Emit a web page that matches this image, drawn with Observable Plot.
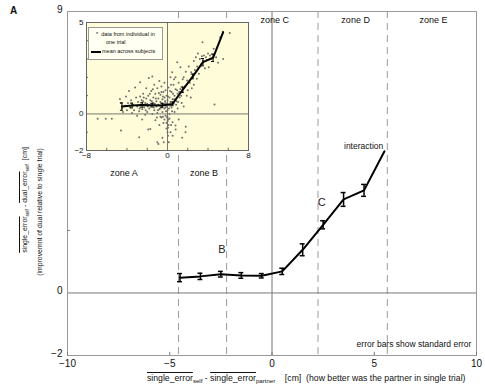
<!DOCTYPE html>
<html><head><meta charset="utf-8">
<script src="https://cdn.jsdelivr.net/npm/d3@7"></script>
<script src="https://cdn.jsdelivr.net/npm/@observablehq/plot@0.6"></script>
<style>
body{margin:0;background:#fff;font-family:"Liberation Sans",Arial,sans-serif;color:#111}
#wrap{position:relative;width:485px;height:388px;overflow:hidden}
#wrap svg{position:absolute}
.ov{text-decoration:overline}
.abs{position:absolute;white-space:nowrap;line-height:1}
.ylab{position:absolute;white-space:nowrap;line-height:1;font-size:8px;transform:translate(-50%,-50%) rotate(-90deg) scale(0.86,1)}
sub{font-size:0.7em;vertical-align:-0.35em;line-height:0}
#leg{position:absolute;left:88px;top:27px;width:73px;height:31px;border:1px solid #999;background:#fffff2;font-size:5.5px}
#leg div{position:absolute;white-space:nowrap;line-height:1}
</style></head><body><div id="wrap"></div>
<script>
// ---- main panel data (mean across subjects) ----
const binX   = [-4.5,-3.5,-2.5,-1.5,-0.5,0.5,1.5,2.5,3.5,4.5,5.5];
const mainY  = [0.49,0.53,0.60,0.56,0.55,0.69,1.38,2.18,2.99,3.28,4.53];
const mainSE = [0.13,0.10,0.09,0.09,0.07,0.10,0.19,0.13,0.22,0.19,null];
// ---- inset data ----
const insetY  = [0.40,0.46,0.49,0.48,0.46,0.55,1.32,2.05,2.83,3.07,4.47];
const insetSE = [0.20,0.13,0.12,0.10,0.10,0.10,0.15,0.13,0.20,0.20,null];
const trialPoints = [
[-6.9,-0.27],[-6.1,-0.27],[-5.5,-0.27],[-4.6,-0.9],[-4.7,0.82],[-4.6,0.6],[-4.5,0.3],[-4.4,0.1],[-4.2,0.45],[-4.1,0.95],
[-4.0,0.2],[-3.9,0.6],[-3.8,1.25],[-3.7,0.35],[-3.6,0.75],[-3.5,0.05],[-3.4,0.5],[-3.3,0.2],[-3.2,1.45],[-3.1,0.9],
[-3.0,0.4],[-3.0,-0.1],[-2.9,0.65],[-2.8,-1.27],[-2.8,0.15],[-2.7,1.73],[-2.7,0.95],[-2.6,0.5],[-2.5,-0.3],[-2.5,0.25],
[-2.4,1.1],[-2.4,0.7],[-2.3,0.35],[-2.2,-0.05],[-2.1,0.85],[-2.1,1.4],[-2.0,0.55],[-2.0,0.1],[-1.9,-0.85],[-1.9,1.0],
[-1.84,1.97],[-1.8,0.3],[-1.7,0.75],[-1.7,-0.82],[-1.6,1.25],[-1.6,0.45],[-1.5,2.05],[-1.5,0.0],[-1.4,0.9],[-1.4,0.6],
[-1.3,1.6],[-1.3,0.2],[-1.2,-0.35],[-1.2,1.1],[-1.1,0.7],[-1.1,0.4],[-1.0,-1.55],[-1.0,1.4],[-1.0,0.05],[-0.9,0.85],
[-0.9,-1.64],[-0.9,0.5],[-0.8,1.8],[-0.8,0.25],[-0.8,-0.6],[-0.7,1.05],[-0.7,0.65],[-0.6,0.35],[-0.6,1.5],[-0.6,-0.2],
[-0.5,0.8],[-0.5,-1.3],[-0.5,0.1],[-0.4,1.2],[-0.4,0.5],[-0.4,-0.5],[-0.37,-1.55],[-0.3,0.9],[-0.3,0.3],[-0.3,1.7],
[-0.2,0.6],[-0.2,-0.1],[-0.2,1.3],[-0.1,0.4],[-0.1,-0.8],[-0.1,1.0],[0.0,0.2],[0.0,-0.4],[0.0,-1.0],[0.0,0.75],
[0.05,-1.2],[0.1,0.5],[0.1,-0.6],[0.1,1.45],[0.13,-1.55],[0.2,0.0],[0.2,0.9],[0.2,-0.25],[0.3,0.65],[0.3,2.0],
[0.3,-1.0],[0.4,0.35],[0.4,1.2],[0.46,2.28],[0.5,-1.2],[0.5,0.8],[0.5,-0.45],[0.6,0.55],[0.6,1.6],[0.7,0.1],
[0.7,1.0],[0.79,2.0],[0.79,-0.63],[0.8,1.35],[0.8,-0.85],[0.9,0.7],[0.96,2.83],[1.0,1.1],[1.0,0.3],[1.1,1.7],
[1.1,-0.3],[1.2,0.9],[1.28,1.37],[1.28,2.55],[1.4,0.6],[1.45,-1.3],[1.5,1.9],[1.5,1.2],[1.6,2.0],[1.6,0.4],
[1.7,1.5],[1.78,-1.0],[1.8,-0.7],[1.8,2.3],[1.9,1.0],[1.94,1.83],[2.0,1.3],[2.1,2.6],[2.2,1.7],[2.3,0.9],
[2.34,2.28],[2.4,1.4],[2.5,2.0],[2.6,2.9],[2.6,1.6],[2.7,2.4],[2.8,3.1],[2.9,1.92],[2.93,2.6],[3.0,3.3],
[3.1,2.2],[3.2,3.0],[3.3,2.7],[3.4,3.15],[3.46,3.92],[3.5,2.9],[3.6,3.2],[3.7,2.5],[3.8,3.1],[3.9,2.95],
[4.0,3.3],[4.08,2.55],[4.2,3.2],[4.3,3.0],[4.57,3.56],[4.64,0.51],[4.8,3.1],[5.0,2.8],[5.2,4.2],[5.46,4.5],
[5.5,3.0],[6.15,4.43],[-0.65,0.45],[-0.25,0.7],[0.15,0.3],[-1.25,0.55],[-0.05,-0.2],[0.35,-0.6],[-2.2,0.6],[-0.45,0.95],
[-0.15,0.15],[-0.35,0.55],[-0.55,0.6],[-0.75,0.3],[-0.95,0.2],[-1.15,0.85],[-1.35,0.35],[-1.55,0.7],[-1.75,1.1],[-1.95,0.4],
[-2.15,0.2],[-2.35,0.9],[-2.55,0.75],[-2.75,0.3],[-0.05,0.55],[0.05,0.95],[0.25,0.45],[0.45,0.15],[0.55,1.1],[0.65,0.8],
[0.85,0.5],[0.95,1.3],[1.15,1.2],[1.35,1.0],[0.0,-0.15],[-0.1,-0.5],[0.1,-0.3],[-0.2,0.35],[-0.45,-0.15],[-0.85,1.15],
[-1.05,-0.2],[-1.45,1.35],[-0.6,1.2],[0.35,1.6],[0.65,1.9],[1.05,0.65],[-0.3,-0.3],[-0.7,-0.15],[0.05,-0.75],[0.25,1.25]
];
// ---- zones and annotations ----
const zoneBounds = [-4.57,-2.22,2.25,5.64];
const zoneLabels = ["zone A","zone B","zone C","zone D","zone E"];
const zoneLabelX = [-7.24,-3.33,0.14,4.09,7.9];
const zoneLabelY = [3.82,3.82,8.74,8.74,8.74];
const pointLabels = ["B","C"];
const pointLabelX = [-2.45,2.43];
const pointLabelY = [1.39,2.9];
const xTicks = [-10,-5,0,5,10];
const yTicks = [-2,0,9];

const mainData = binX.map((x,i)=>({x, y:mainY[i], se:mainSE[i]}));
const mainErr = mainData.filter(d=>d.se!=null);
const insetData = binX.map((x,i)=>({x, y:insetY[i], se:insetSE[i]}));
const insetErr = insetData.filter(d=>d.se!=null);

const font = "Liberation Sans, Arial, sans-serif";
const fmt = d => String(d).replace("-","\u2212");
const wrap = document.getElementById("wrap");

const main = Plot.plot({
  width:485, height:388, marginLeft:67, marginRight:9, marginTop:11, marginBottom:33,
  x:{domain:[-10,10]}, y:{domain:[-2,9]},
  style:{fontFamily:font, fontSize:"10px", background:"transparent", color:"#111"},
  marks:[
    Plot.ruleX(zoneBounds,{stroke:"#9a9a9a", strokeDasharray:"7,5", strokeWidth:1}),
    Plot.ruleY([0],{stroke:"#777", strokeWidth:1}),
    Plot.ruleX([0],{stroke:"#777", strokeWidth:1}),
    Plot.frame({stroke:"#999"}),
    Plot.axisX({ticks:xTicks, tickSize:0, tickPadding:4, tickFormat:fmt, label:null}),
    Plot.axisY({ticks:yTicks, tickSize:0, tickPadding:5, tickFormat:fmt, dy:-2, label:null}),
    Plot.ruleX(xTicks,{y1:-2, y2:-1.9, stroke:"#777"}),
    Plot.ruleY([2],{x1:-10, x2:-9.85, stroke:"#777"}),
    Plot.ruleX(mainErr,{x:"x", y1:d=>d.y-d.se, y2:d=>d.y+d.se, stroke:"#000", strokeWidth:1.5}),
    Plot.ruleY(mainErr,{y:d=>d.y+d.se, x1:d=>d.x-0.12, x2:d=>d.x+0.12, stroke:"#000", strokeWidth:1.5}),
    Plot.ruleY(mainErr,{y:d=>d.y-d.se, x1:d=>d.x-0.12, x2:d=>d.x+0.12, stroke:"#000", strokeWidth:1.5}),
    Plot.line(mainData,{x:"x", y:"y", stroke:"#000", strokeWidth:2}),
    Plot.text(zoneLabels,{x:(d,i)=>zoneLabelX[i], y:(d,i)=>zoneLabelY[i], text:d=>d, fontSize:9, fill:"#111"}),
    Plot.text(pointLabels,{x:(d,i)=>pointLabelX[i], y:(d,i)=>pointLabelY[i], text:d=>d, fontSize:11, fill:"#222"}),
    Plot.text(["interaction"],{x:4.48, y:4.69, text:d=>d, fontSize:8.5, fill:"#111"}),
    Plot.text(["error bars show standard error"],{x:9.75, y:-1.65, text:d=>d, textAnchor:"end", fontSize:8.5, fill:"#111"})
  ]
});
main.style.left="0px"; main.style.top="0px";
wrap.appendChild(main);

const inset = Plot.plot({
  width:190, height:152, marginLeft:20, marginRight:8, marginTop:8, marginBottom:16,
  x:{domain:[-8,8]}, y:{domain:[-2,5]},
  style:{fontFamily:font, fontSize:"8px", background:"transparent", color:"#111", overflow:"visible"},
  marks:[
    Plot.frame({fill:"#fffdd9", stroke:"#666"}),
    Plot.ruleY([0],{stroke:"#555", strokeWidth:0.8}),
    Plot.ruleX([0],{stroke:"#555", strokeWidth:0.8}),
    Plot.ruleY([-1,1,2,3,4],{x1:-8, x2:-7.8, stroke:"#666"}),
    Plot.ruleX([-6,-4,-2,2,4,6],{y1:-2, y2:-1.88, stroke:"#666"}),
    Plot.axisX({ticks:[-8,0,8], tickSize:0, tickPadding:2, tickFormat:fmt, label:null}),
    Plot.axisY({ticks:[-2,0,5], tickSize:0, tickPadding:3, tickFormat:fmt, label:null}),
    Plot.dot(trialPoints,{x:d=>d[0], y:d=>d[1], r:1, fill:"#6f6f6f", stroke:"none"}),
    Plot.ruleX(insetErr,{x:"x", y1:d=>d.y-d.se, y2:d=>d.y+d.se, stroke:"#000", strokeWidth:1}),
    Plot.ruleY(insetErr,{y:d=>d.y+d.se, x1:d=>d.x-0.15, x2:d=>d.x+0.15, stroke:"#000", strokeWidth:1}),
    Plot.ruleY(insetErr,{y:d=>d.y-d.se, x1:d=>d.x-0.15, x2:d=>d.x+0.15, stroke:"#000", strokeWidth:1}),
    Plot.line(insetData,{x:"x", y:"y", stroke:"#000", strokeWidth:2})
  ]
});
inset.style.left="66px"; inset.style.top="14px";
wrap.appendChild(inset);

// legend of inset
const leg = document.createElement("div");
leg.id="leg";
leg.innerHTML = '<div style="left:7px;top:4px">*&nbsp; data from individual in</div>'+
  '<div style="left:17px;top:12px">one trial</div>'+
  '<div style="left:2px;top:23px;width:10px;height:2px;background:#000"></div>'+
  '<div style="left:13px;top:21px">mean across subjects</div>';
wrap.appendChild(leg);

// panel letter
const A = document.createElement("div");
A.className="abs"; A.style.cssText="left:10px;top:6px;font-size:10px;font-weight:bold";
A.textContent="A";
wrap.appendChild(A);

// y label
const y1 = document.createElement("div");
y1.className="ylab"; y1.style.left="25px"; y1.style.top="200px";
y1.innerHTML='<span class="ov">single_error</span><sub>self</sub> - <span class="ov">dual_error</span><sub>self</sub>&nbsp; [cm]';
wrap.appendChild(y1);
const y2 = document.createElement("div");
y2.className="ylab"; y2.style.left="40px"; y2.style.top="212px";
y2.textContent="(improvemnt of dual relative to single trial)";
wrap.appendChild(y2);

// x label
const xl = document.createElement("div");
xl.className="abs"; xl.style.cssText="left:147px;top:374px;font-size:8.7px";
xl.innerHTML='<span class="ov">single_error</span><sub>self</sub> - <span class="ov">single_error</span><sub>partner</sub>&nbsp;&nbsp;&nbsp; [cm] &nbsp;(how better was the partner in single trial)';
wrap.appendChild(xl);
</script></body></html>
